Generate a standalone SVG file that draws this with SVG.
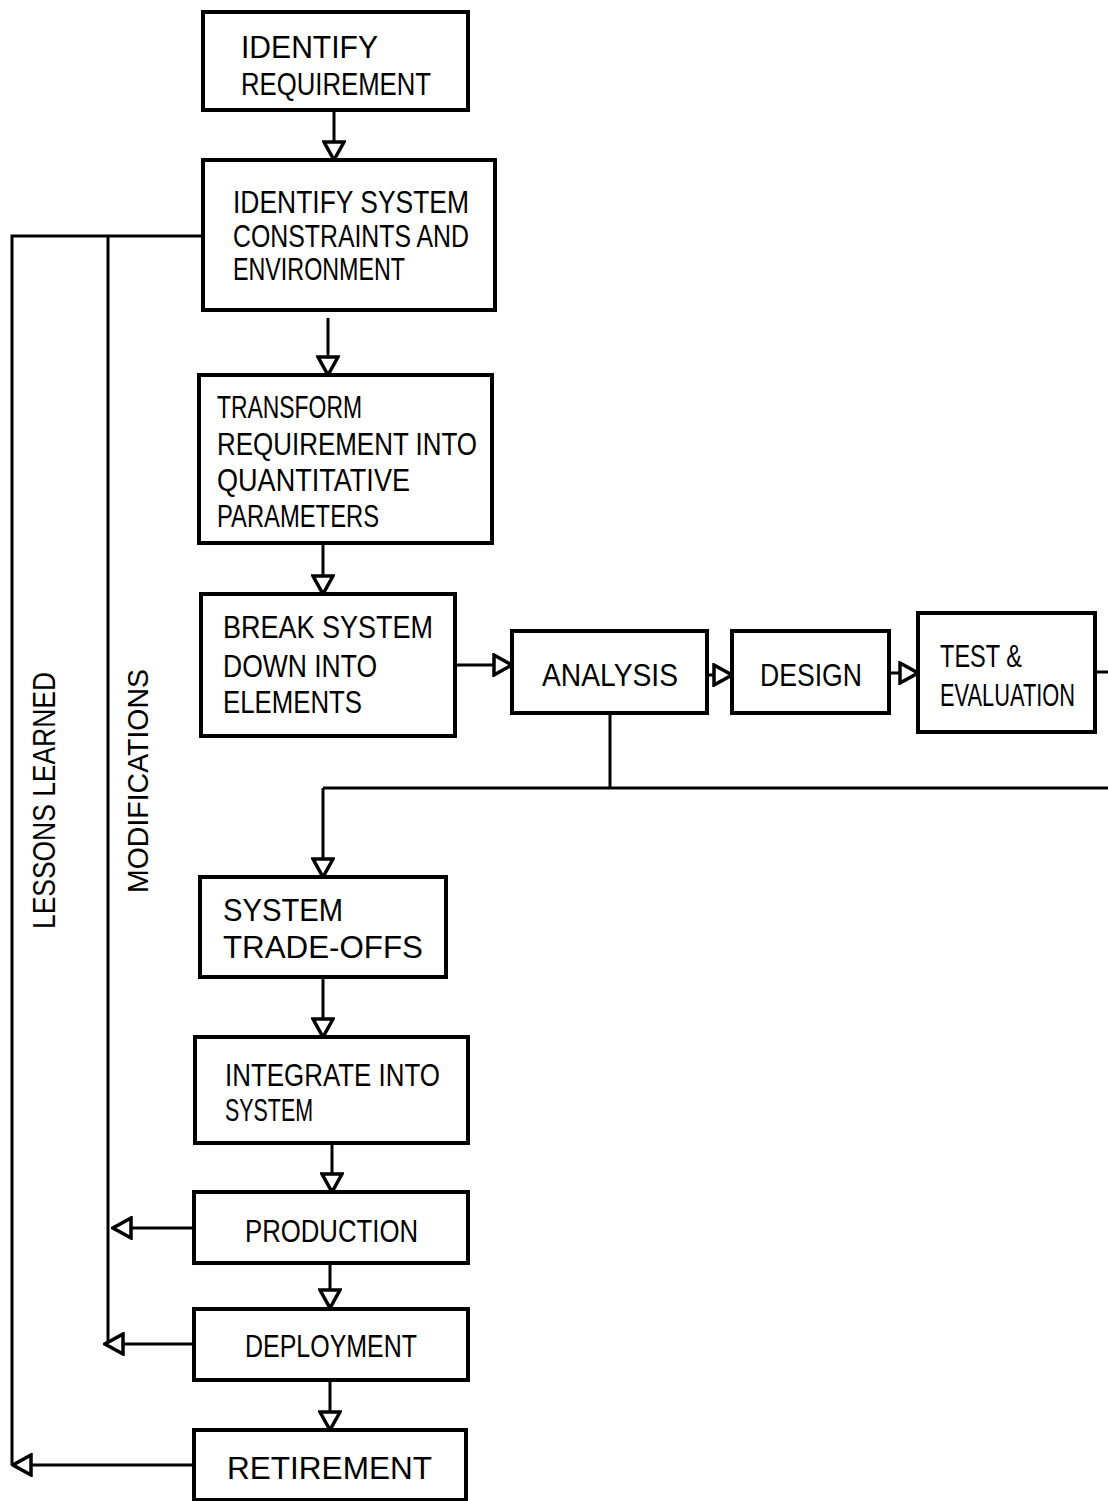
<svg xmlns="http://www.w3.org/2000/svg" width="1108" height="1501" viewBox="0 0 1108 1501">
<style>
.box{fill:#fff;stroke:#000;stroke-width:4}
.t{font-family:"Liberation Sans","DejaVu Sans",sans-serif;font-size:32px;fill:#000}
.ln{fill:none;stroke:#000;stroke-width:3}
.arr{marker-end:url(#ah)}
</style>
<defs>
<marker id="ah" markerUnits="userSpaceOnUse" viewBox="0 0 22 24" refX="20" refY="12" markerWidth="22" markerHeight="24" orient="auto">
<path d="M2,2 L20,12 L2,22 Z" fill="#fff" stroke="#000" stroke-width="3.5" stroke-linejoin="miter"/>
</marker>
</defs>
<rect width="1108" height="1501" fill="#fff"/>
<g id="connectors">
<path class="ln arr" d="M334,110 V160"/>
<path class="ln arr" d="M328,318 V375"/>
<path class="ln arr" d="M323,543 V594"/>
<path class="ln arr" d="M455,665 H512"/>
<path class="ln arr" d="M707,675 H732"/>
<path class="ln arr" d="M889,673 H918"/>
<path class="ln" d="M1095,672 H1108"/>
<path class="ln" d="M610,713 V788 M323,788 H1108"/>
<path class="ln arr" d="M323,788 V877"/>
<path class="ln arr" d="M323,977 V1037"/>
<path class="ln arr" d="M332,1143 V1192"/>
<path class="ln arr" d="M330,1263 V1308"/>
<path class="ln arr" d="M330,1380 V1430"/>
<path class="ln" d="M203,236 H12 V1465 M108,236 V1345"/>
<path class="ln arr" d="M193,1228 H113"/>
<path class="ln arr" d="M193,1344 H105"/>
<path class="ln arr" d="M193,1465 H13"/>
</g>
<g id="n1"><rect class="box" x="203" y="12" width="265" height="98"/>
<text class="t" x="241" y="58" textLength="137" lengthAdjust="spacingAndGlyphs">IDENTIFY</text>
<text class="t" x="241" y="95" textLength="190" lengthAdjust="spacingAndGlyphs">REQUIREMENT</text></g>
<g id="n2"><rect class="box" x="203" y="160" width="292" height="150"/>
<text class="t" x="233" y="213" textLength="236" lengthAdjust="spacingAndGlyphs">IDENTIFY SYSTEM</text>
<text class="t" x="233" y="247" textLength="236" lengthAdjust="spacingAndGlyphs">CONSTRAINTS AND</text>
<text class="t" x="233" y="280" textLength="172" lengthAdjust="spacingAndGlyphs">ENVIRONMENT</text></g>
<g id="n3"><rect class="box" x="199" y="375" width="293" height="168"/>
<text class="t" x="217" y="418" textLength="145" lengthAdjust="spacingAndGlyphs">TRANSFORM</text>
<text class="t" x="217" y="455" textLength="260" lengthAdjust="spacingAndGlyphs">REQUIREMENT INTO</text>
<text class="t" x="217" y="491" textLength="193" lengthAdjust="spacingAndGlyphs">QUANTITATIVE</text>
<text class="t" x="217" y="527" textLength="162" lengthAdjust="spacingAndGlyphs">PARAMETERS</text></g>
<g id="n4"><rect class="box" x="201" y="594" width="254" height="142"/>
<text class="t" x="223" y="638" textLength="210" lengthAdjust="spacingAndGlyphs">BREAK SYSTEM</text>
<text class="t" x="223" y="677" textLength="154" lengthAdjust="spacingAndGlyphs">DOWN INTO</text>
<text class="t" x="223" y="713" textLength="139" lengthAdjust="spacingAndGlyphs">ELEMENTS</text></g>
<g id="n5"><rect class="box" x="512" y="631" width="195" height="82"/>
<text class="t" x="542" y="686" textLength="136" lengthAdjust="spacingAndGlyphs">ANALYSIS</text></g>
<g id="n6"><rect class="box" x="732" y="631" width="157" height="82"/>
<text class="t" x="760" y="686" textLength="102" lengthAdjust="spacingAndGlyphs">DESIGN</text></g>
<g id="n7"><rect class="box" x="918" y="613" width="177" height="119"/>
<text class="t" x="940" y="667" textLength="82" lengthAdjust="spacingAndGlyphs">TEST &amp;</text>
<text class="t" x="940" y="706" textLength="135" lengthAdjust="spacingAndGlyphs">EVALUATION</text></g>
<g id="n8"><rect class="box" x="200" y="877" width="246" height="100"/>
<text class="t" x="223" y="921" textLength="120" lengthAdjust="spacingAndGlyphs">SYSTEM</text>
<text class="t" x="223" y="958" textLength="200" lengthAdjust="spacingAndGlyphs">TRADE-OFFS</text></g>
<g id="n9"><rect class="box" x="195" y="1037" width="273" height="106"/>
<text class="t" x="225" y="1086" textLength="215" lengthAdjust="spacingAndGlyphs">INTEGRATE INTO</text>
<text class="t" x="225" y="1121" textLength="88" lengthAdjust="spacingAndGlyphs">SYSTEM</text></g>
<g id="n10"><rect class="box" x="194" y="1192" width="274" height="71"/>
<text class="t" x="245" y="1242" textLength="173" lengthAdjust="spacingAndGlyphs">PRODUCTION</text></g>
<g id="n11"><rect class="box" x="194" y="1309" width="274" height="71"/>
<text class="t" x="245" y="1357" textLength="172" lengthAdjust="spacingAndGlyphs">DEPLOYMENT</text></g>
<g id="n12"><rect class="box" x="194" y="1430" width="272" height="70"/>
<text class="t" x="227" y="1479" textLength="205" lengthAdjust="spacingAndGlyphs">RETIREMENT</text></g>
<g id="labels">
<text class="t" transform="translate(55,929) rotate(-90)" textLength="257" lengthAdjust="spacingAndGlyphs" style="font-size:31px">LESSONS LEARNED</text>
<text class="t" transform="translate(148,893) rotate(-90)" textLength="224" lengthAdjust="spacingAndGlyphs" style="font-size:30px">MODIFICATIONS</text>
</g>
</svg>
